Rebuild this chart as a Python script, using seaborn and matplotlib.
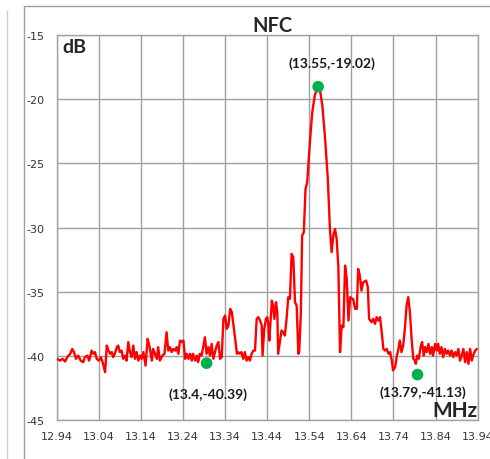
import matplotlib
matplotlib.use("Agg")
import matplotlib.pyplot as plt
from matplotlib.lines import Line2D
import seaborn as sns

# spectrum trace (MHz, dB)
freq = [12.941, 12.948, 12.954, 12.960, 12.965, 12.972, 12.977, 12.981, 12.986, 12.991,
        12.997, 13.003, 13.007, 13.013, 13.017, 13.023, 13.027, 13.031, 13.035, 13.040,
        13.045, 13.049, 13.055, 13.059, 13.063, 13.067, 13.071, 13.074, 13.078, 13.083,
        13.086, 13.090, 13.094, 13.098, 13.102, 13.106, 13.110, 13.114, 13.118, 13.122,
        13.126, 13.130, 13.134, 13.138, 13.142, 13.146, 13.151, 13.156, 13.160, 13.166,
        13.169, 13.178, 13.181, 13.185, 13.191, 13.196, 13.201, 13.205, 13.209, 13.213,
        13.217, 13.221, 13.225, 13.229, 13.233, 13.237, 13.241, 13.245, 13.249, 13.253,
        13.257, 13.261, 13.264, 13.269, 13.273, 13.276, 13.280, 13.284, 13.288, 13.292,
        13.296, 13.300, 13.304, 13.308, 13.312, 13.316, 13.320, 13.324, 13.328, 13.332,
        13.336, 13.340, 13.344, 13.348, 13.352, 13.356, 13.359, 13.364, 13.368, 13.371,
        13.375, 13.379, 13.383, 13.387, 13.391, 13.395, 13.399, 13.403, 13.407, 13.411,
        13.415, 13.419, 13.423, 13.427, 13.429, 13.433, 13.437, 13.440, 13.443, 13.445,
        13.451, 13.454, 13.457, 13.461, 13.464, 13.466, 13.470, 13.474, 13.478, 13.482,
        13.486, 13.490, 13.494, 13.498, 13.502, 13.506, 13.510, 13.514, 13.516, 13.520,
        13.522, 13.523, 13.527, 13.531, 13.535, 13.542, 13.547, 13.553, 13.560, 13.565,
        13.571, 13.577, 13.584, 13.589, 13.593, 13.597, 13.601, 13.605, 13.609, 13.613,
        13.617, 13.621, 13.625, 13.629, 13.633, 13.637, 13.641, 13.644, 13.649, 13.653,
        13.656, 13.660, 13.664, 13.668, 13.675, 13.679, 13.682, 13.688, 13.692, 13.696,
        13.700, 13.704, 13.708, 13.712, 13.716, 13.720, 13.724, 13.728, 13.732, 13.736,
        13.739, 13.744, 13.748, 13.751, 13.755, 13.759, 13.763, 13.767, 13.771, 13.775,
        13.779, 13.783, 13.787, 13.791, 13.793, 13.796, 13.800, 13.805, 13.808, 13.812,
        13.815, 13.819, 13.823, 13.827, 13.831, 13.834, 13.839, 13.843, 13.846, 13.850,
        13.854, 13.858, 13.862, 13.866, 13.870, 13.874, 13.878, 13.882, 13.886, 13.890,
        13.894, 13.898, 13.902, 13.906, 13.910, 13.914, 13.918, 13.922, 13.926, 13.929,
        13.934, 13.938]
level_db = [-40.21, -40.35, -40.21, -40.42, -40.08, -39.82, -39.44, -39.69, -40.21, -39.96,
            -40.35, -40.47, -40.08, -39.96, -40.35, -39.57, -39.82, -39.69, -40.21, -40.35,
            -40.08, -40.47, -41.25, -39.18, -39.57, -39.82, -39.69, -40.08, -39.82, -39.30,
            -39.18, -39.69, -39.57, -40.21, -39.96, -40.35, -38.91, -39.69, -40.08, -39.18,
            -40.21, -39.69, -40.35, -39.96, -40.21, -39.69, -40.74, -38.66, -39.18, -40.35,
            -39.44, -40.21, -39.30, -40.35, -39.96, -39.82, -38.14, -39.57, -39.30, -39.69,
            -39.44, -39.57, -39.30, -39.82, -38.79, -38.91, -38.79, -40.21, -39.82, -40.21,
            -39.82, -40.35, -39.82, -40.35, -39.96, -40.47, -39.82, -39.96, -39.30, -38.53,
            -39.82, -39.30, -39.96, -39.05, -40.21, -39.69, -39.18, -38.91, -40.21, -40.08,
            -37.10, -36.84, -37.88, -37.62, -36.32, -36.58, -37.36, -38.66, -39.82, -39.69,
            -39.82, -39.69, -40.21, -39.69, -40.35, -40.08, -40.35, -39.82, -39.57, -39.57,
            -37.10, -36.97, -37.23, -37.62, -39.96, -37.88, -37.10, -36.97, -37.62, -38.79,
            -35.68, -36.07, -37.10, -35.80, -36.58, -39.82, -38.91, -38.01, -38.14, -38.40,
            -37.10, -35.41, -35.54, -32.04, -32.30, -35.80, -36.07, -39.82, -39.69, -36.58,
            -32.82, -30.62, -30.35, -26.98, -26.46, -23.09, -21.02, -19.72, -19.02, -19.20,
            -20.50, -22.84, -26.21, -30.10, -31.91, -30.62, -30.10, -30.88, -33.08, -39.69,
            -37.62, -37.75, -32.95, -33.99, -37.23, -35.41, -35.54, -35.54, -36.32, -36.32,
            -33.21, -33.73, -34.90, -34.25, -34.12, -34.63, -37.10, -37.36, -37.10, -37.49,
            -36.97, -37.23, -36.97, -38.14, -39.44, -39.57, -39.44, -39.82, -39.69, -40.35,
            -41.12, -40.86, -39.96, -39.57, -38.79, -39.69, -39.18, -37.88, -36.07, -35.41,
            -36.58, -38.66, -40.21, -40.35, -40.60, -39.96, -40.21, -39.18, -38.91, -39.96,
            -39.30, -39.69, -39.05, -39.82, -39.30, -39.96, -39.05, -39.57, -39.05, -39.82,
            -39.30, -40.08, -39.44, -39.82, -39.57, -39.96, -39.57, -40.08, -39.69, -39.96,
            -39.44, -40.35, -39.96, -39.44, -40.47, -39.69, -40.60, -39.44, -40.35, -39.96,
            -39.57, -39.44]

# marked points and their labels
mark_freq = [13.296, 13.561, 13.797]
mark_db = [-40.55, -19.02, -41.44]
mark_labels = ["(13.4,-40.39)", "(13.55,-19.02)", "(13.79,-41.13)"]

x_ticks = [12.94, 13.04, 13.14, 13.24, 13.34, 13.44, 13.54, 13.64, 13.74, 13.84, 13.94]
y_ticks = [-45, -40, -35, -30, -25, -20, -15]

sns.set_style("white")
plt.rcParams['font.family'] = ['DejaVu Sans']

fig = plt.figure(figsize=(4.9, 4.6), dpi=100)
ax = fig.add_axes([0.1157, 0.0841, 0.8592, 0.8376])

sns.lineplot(x=freq, y=level_db, ax=ax, color="#FF0000", lw=1.7,
             estimator=None, sort=False, zorder=3)
sns.scatterplot(x=mark_freq, y=mark_db, ax=ax, color="#00B050", s=70,
                edgecolor="none", zorder=4)

offsets = [(1, -22), (10, 17.5), (4, -12.5)]
for fx, fy, lab, off in zip(mark_freq, mark_db, mark_labels, offsets):
    ax.annotate(lab, (fx, fy), xytext=off, textcoords="offset points",
                ha="center", va="center", fontsize=10, fontweight="bold",
                family="Lato", color="#1a1a1a")

ax.set_xlim(12.94, 13.94)
ax.set_ylim(-45, -15)
ax.set_xticks(x_ticks)
ax.set_yticks(y_ticks)
ax.set_xticklabels([f"{t:.2f}" for t in x_ticks], color="#2f3545", fontsize=8)
ax.set_yticklabels([str(t) for t in y_ticks], color="#333333", fontsize=8)
for lab in ax.get_yticklabels():
    lab.set_horizontalalignment("left")
ax.tick_params(axis="y", direction="out", length=3.6, color="#909090", pad=18.5)
ax.tick_params(axis="x", direction="out", length=3.6, color="#909090", pad=4)
ax.grid(True, color="#a0a0a0", lw=1.0)
for sp in ax.spines.values():
    sp.set_color("#a0a0a0")
    sp.set_linewidth(1.0)

ax.text(0.013, 0.971, "dB", transform=ax.transAxes, ha="left", va="center",
        fontsize=14, fontweight="bold", family="Lato")
ax.text(0.9995, 0.028, "MHz", transform=ax.transAxes, ha="right", va="center",
        fontsize=15, fontweight="bold", family="Lato")
fig.text(0.557, 0.943, "NFC", ha="center", va="center", fontsize=14.5,
         fontweight="bold", family="Lato")

# outer chart frame and neighbouring panel edge
fig.add_artist(Line2D([0.049, 0.049], [0, 0.985], transform=fig.transFigure,
                      color="#a0a0a0", lw=1.0))
fig.add_artist(Line2D([0.049, 1.0], [0.985, 0.985], transform=fig.transFigure,
                      color="#a0a0a0", lw=1.0))
fig.add_artist(Line2D([0.014, 0.014], [0, 0.975], transform=fig.transFigure,
                      color="#d0d0d0", lw=1.0))

fig.savefig("out.png", dpi=100)
